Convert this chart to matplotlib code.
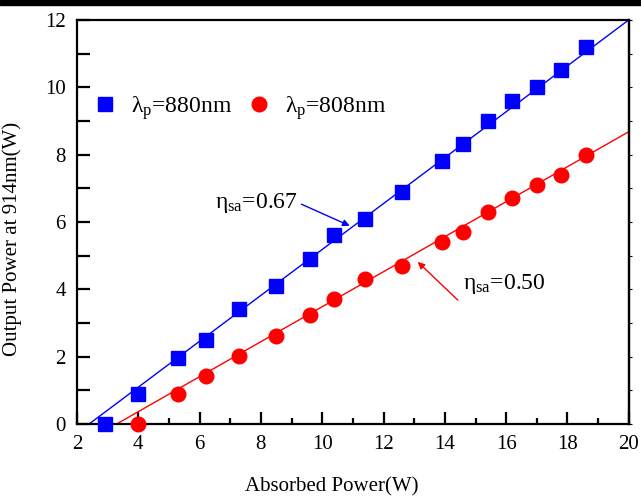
import numpy as np
import matplotlib
matplotlib.use('Agg')
import matplotlib.pyplot as plt
from matplotlib.patches import Rectangle

plt.rcParams['font.family'] = ['Liberation Serif', 'DejaVu Serif']
plt.rcParams['mathtext.fontset'] = 'custom'
plt.rcParams['mathtext.rm'] = 'Liberation Serif'
plt.rcParams['mathtext.it'] = 'Liberation Serif'

# ==== data ====
x_880 = [2.9, 4.0, 5.3, 6.2, 7.3, 8.5, 9.6, 10.4, 11.4, 12.6, 13.9, 14.6, 15.4, 16.2, 17.0, 17.8, 18.6]
y_880 = [0.0, 0.9, 1.95, 2.5, 3.4, 4.1, 4.9, 5.6, 6.1, 6.9, 7.8, 8.3, 9.0, 9.6, 10.0, 10.5, 11.2]
x_808 = [4.0, 5.3, 6.2, 7.3, 8.5, 9.6, 10.4, 11.4, 12.6, 13.9, 14.6, 15.4, 16.2, 17.0, 17.8, 18.6]
y_808 = [0.0, 0.9, 1.42, 2.02, 2.6, 3.25, 3.7, 4.3, 4.7, 5.4, 5.7, 6.3, 6.7, 7.1, 7.4, 8.0]

# fitted lines (end points)
fit_880_x = [2.4, 20.0]
fit_880_y = [0.0, 12.0]
fit_808_x = [3.3, 20.0]
fit_808_y = [0.0, 8.68]

fig = plt.figure(figsize=(6.41, 4.97), dpi=100)
ax = fig.add_axes([0.120, 0.147, 0.861, 0.813])

ax.plot(fit_880_x, fit_880_y, color='#0000ff', lw=1.0, zorder=2)
ax.plot(fit_808_x, fit_808_y, color='#ff0000', lw=1.0, zorder=2)
l1, = ax.plot(x_880, y_880, 's', color='#0000ff', ms=9.5, mec='#0000ff', zorder=3, clip_on=False)
l2, = ax.plot(x_808, y_808, 'o', color='#ff0000', ms=10.5, mec='#ff0000', zorder=3, clip_on=False)

ax.set_xlim(2, 20)
ax.set_ylim(0, 12)
ax.set_xticks(np.arange(2, 21, 2))
ax.set_xticks(np.arange(3, 20, 2), minor=True)
ax.set_yticks(np.arange(0, 13, 2))
ax.set_yticks(np.arange(1, 12, 2), minor=True)

for s in ax.spines.values():
    s.set_linewidth(1.6)

ax.tick_params(axis='x', which='major', direction='in', length=9, width=1.6, labelsize=15, pad=8)
ax.tick_params(axis='x', which='minor', direction='in', length=4.5, width=1.6)
ax.tick_params(axis='y', which='both', direction='in', length=9, width=1.6, labelsize=15, pad=8)

# short outward marks on the right spine
sec = ax.secondary_yaxis('right')
sec.set_yticks(np.arange(0, 13, 1))
sec.tick_params(direction='out', length=2.5, width=0.8, labelright=False)
sec.spines['right'].set_linewidth(1.6)

ax.set_xlabel('Absorbed Power(W)', fontsize=15)
ax.set_ylabel('Output Power at 914nm(W)', fontsize=15)
ax.xaxis.set_label_coords(0.462, -0.131)
ax.yaxis.set_label_coords(-0.10, 0.458)

ax.legend([l1, l2], ['λ$_{\\rm p}$=880nm', 'λ$_{\\rm p}$=808nm'], loc='center left',
          bbox_to_anchor=(0.0, 0.782), ncol=2, frameon=False, fontsize=17,
          handlelength=1.0, handletextpad=0.6, columnspacing=0.64, borderaxespad=0.3)

ax.annotate('', xy=(10.98, 5.85), xytext=(9.24, 6.56),
            arrowprops=dict(arrowstyle='-|>', color='#0000ff', lw=1.0, mutation_scale=10))
ax.text(6.5, 6.56, 'η$_{\\rm sa}$=0.67', fontsize=17, va='center', ha='left')
ax.annotate('', xy=(13.05, 4.87), xytext=(14.49, 3.62),
            arrowprops=dict(arrowstyle='-|>', color='#ff0000', lw=1.0, mutation_scale=10))
ax.text(14.6, 4.15, 'η$_{\\rm sa}$=0.50', fontsize=17, va='center', ha='left')

# thick black line along the top of the picture
fig.add_artist(Rectangle((0, 0.99), 1, 0.01, transform=fig.transFigure, color='black'))

plt.savefig('out.png', dpi=100)
